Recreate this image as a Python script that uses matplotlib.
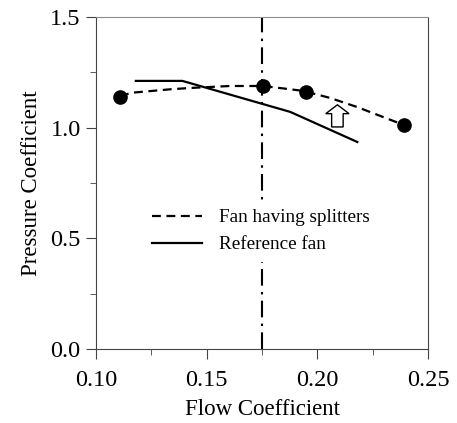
import matplotlib.pyplot as plt
import matplotlib as mpl

mpl.rcParams['font.family'] = ['Liberation Serif', 'DejaVu Serif']

splitter_pts_x = [0.111, 0.1755, 0.195, 0.239]
splitter_pts_y = [1.139, 1.188, 1.161, 1.012]

splitter_curve_x = [0.111, 0.1155, 0.1335, 0.1425, 0.1605, 0.1755, 0.1935, 0.2057, 0.2179, 0.2296, 0.239]
splitter_curve_y = [1.139, 1.157, 1.173, 1.179, 1.188, 1.188, 1.166, 1.134, 1.093, 1.048, 1.012]

ref_x = [0.118, 0.139, 0.1877, 0.218]
ref_y = [1.211, 1.211, 1.071, 0.935]

design_flow = 0.175

fig, ax = plt.subplots(figsize=(4.57, 4.23), dpi=100)
fig.subplots_adjust(left=0.21, right=0.937, top=0.96, bottom=0.175)

ax.plot(splitter_curve_x, splitter_curve_y, color='black', linestyle=(0, (4, 2.5)), linewidth=1.6,
        label='Fan having splitters')
ax.plot(splitter_pts_x, splitter_pts_y, 'o', color='black', markersize=9.5, zorder=3)
ax.plot(ref_x, ref_y, color='black', linewidth=1.6, label='Reference fan')
ax.axvline(design_flow, color='black', linestyle=(0, (8, 3, 1.2, 3)), linewidth=1.5)

# hollow arrow showing improvement
ax.arrow(0.209, 1.003, 0, 0.06, width=0.0052, head_width=0.0105, head_length=0.04,
         length_includes_head=False, facecolor='white', edgecolor='black', linewidth=1.0, zorder=4)

ax.set_xlim(0.10, 0.25)
ax.set_ylim(0.0, 1.5)
ax.set_xticks([0.10, 0.15, 0.20, 0.25])
ax.set_xticklabels(['0.10', '0.15', '0.20', '0.25'])
ax.set_yticks([0.0, 0.5, 1.0, 1.5])
ax.set_yticklabels(['0.0', '0.5', '1.0', '1.5'])
ax.set_xticks([0.125, 0.175, 0.225], minor=True)
ax.set_yticks([0.25, 0.75, 1.25], minor=True)
ax.tick_params(which='major', direction='out', length=7, labelsize=17.5, color='#444444')
ax.tick_params(axis='x', which='major', pad=8)
ax.tick_params(axis='y', which='major', pad=4)
ax.tick_params(which='minor', direction='out', length=4, color='#444444')
for s in ['left', 'bottom', 'right']:
    ax.spines[s].set_color('#444444')
ax.spines['top'].set_color('#8c8c8c')

ax.set_xlabel('Flow Coefficient', fontsize=16.5, labelpad=6)
ax.set_ylabel('Pressure Coefficient', fontsize=16.5, labelpad=6)

leg = ax.legend(loc='upper left', bbox_to_anchor=(0.143, 0.448), frameon=True, fontsize=13.8,
                handlelength=2.6, handletextpad=0.9, labelspacing=0.5, borderaxespad=0,
                borderpad=0.45, fancybox=False, framealpha=1)
leg.get_frame().set_facecolor('white')
leg.get_frame().set_edgecolor('none')

fig.savefig('out.png', dpi=100)
